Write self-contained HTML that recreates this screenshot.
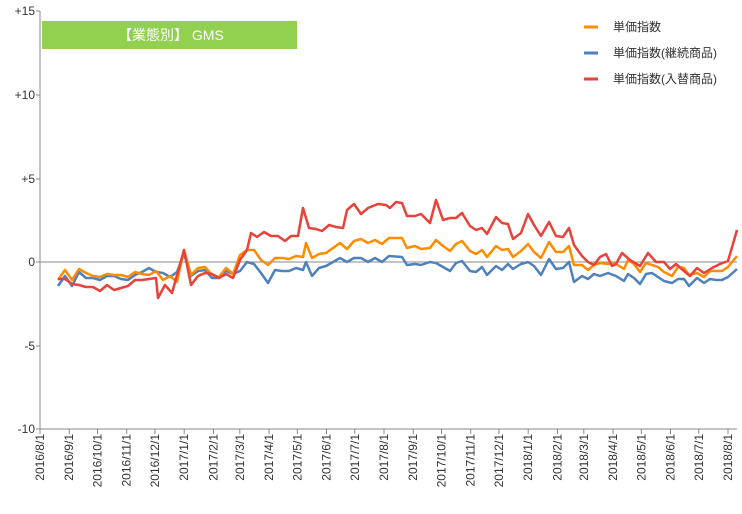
<!DOCTYPE html>
<html><head><meta charset="utf-8"><style>
body{margin:0;background:#fff;}
svg text{font-family:"Liberation Sans","Noto Sans CJK JP",sans-serif;}
</style></head><body>
<svg width="742" height="509" viewBox="0 0 742 509" xmlns="http://www.w3.org/2000/svg">
<rect width="742" height="509" fill="#fff"/>
<g font-size="12" fill="#333" text-anchor="end">
<text x="35" y="15">+15</text><text x="35" y="99">+10</text><text x="35" y="183">+5</text>
<text x="35" y="266">0</text><text x="35" y="350">-5</text><text x="35" y="433">-10</text>
</g>
<line x1="40" y1="11" x2="40" y2="429" stroke="#888" stroke-width="1"/>
<line x1="40" y1="429" x2="737" y2="429" stroke="#888" stroke-width="1"/>
<line x1="40" y1="262" x2="737" y2="262" stroke="#888" stroke-width="1"/>
<g stroke="#888" stroke-width="1">
<line x1="36" y1="11" x2="40" y2="11"/><line x1="36" y1="95" x2="40" y2="95"/><line x1="36" y1="179" x2="40" y2="179"/><line x1="36" y1="262" x2="40" y2="262"/><line x1="36" y1="346" x2="40" y2="346"/><line x1="36" y1="429" x2="40" y2="429"/>
</g>
<g id="xt" font-size="12" fill="#333"></g>
<rect x="42" y="21" width="255" height="28" fill="#92d050"/>
<text x="118" y="40" font-size="14" fill="#fff">【業態別】 GMS</text>
<g font-size="12" fill="#333">
<line x1="584" y1="27" x2="598" y2="27" stroke="#ff8c00" stroke-width="3"/><text x="613" y="31">単価指数</text>
<line x1="584" y1="53" x2="598" y2="53" stroke="#4f81bd" stroke-width="3"/><text x="613" y="57">単価指数(継続商品)</text>
<line x1="584" y1="79" x2="598" y2="79" stroke="#e8423a" stroke-width="3"/><text x="613" y="83">単価指数(入替商品)</text>
</g>
<g fill="none" stroke-width="2.5" stroke-linejoin="round">
<polyline stroke="#4f81bd" points="58,286 65,276 72,286 79,272 86,278 93,278 100,280 107,276 114,276 121,279 128,280 135,275 142,272 149,268 156,272 163,273 170,277 177,272 184,254 191,276 198,271 205,270 212,278 219,278 226,271 233,274 240,271 247,262 254,264 261,273 268,283 275,270 282,271 289,271 296,268 303,270 306,262 312,276 319,268 326,266 333,262 340,258 347,262 354,258 361,258 368,262 375,258 382,262 389,256 402,257 407,265 415,264 421,265 430,262 436,263 443,267 450,271 456,263 462,261 470,271 476,272 482,267 487,275 496,266 502,270 508,264 513,269 521,264 528,262 534,266 541,275 549,259 556,269 563,268 569,262 574,282 582,276 588,279 594,274 600,276 608,273 616,276 624,281 628,274 634,278 640,284 646,274 652,273 658,277 664,281 672,283 678,279 684,279 689,286 697,278 704,283 710,279 716,280 722,280 728,277 737,269"/>
<polyline stroke="#ff8c00" points="58,280 65,270 72,280 79,269 86,273 93,276 100,277 107,274 114,275 121,275 128,277 135,272 142,274 149,275 156,271 163,280 170,276 177,282 184,250 191,275 198,268 205,267 212,275 219,277 226,268 233,274 240,255 247,250 254,250 261,260 268,265 275,258 282,258 289,259 296,256 303,257 306,243 312,258 319,254 326,253 333,248 340,243 347,249 354,241 361,239 368,243 375,240 382,244 389,238 402,238 407,248 415,246 421,249 430,248 436,240 443,246 450,251 456,244 462,241 470,251 476,254 482,250 487,257 496,246 502,250 508,249 513,257 521,251 528,244 534,252 541,258 549,242 556,252 563,252 569,246 574,265 582,265 588,270 594,265 600,263 608,264 616,264 624,269 628,260 634,264 640,272 646,263 652,265 658,267 664,272 672,276 678,267 684,268 689,275 697,273 704,277 710,271 716,271 722,271 728,267 737,256"/>
<polyline stroke="#e8423a" points="58,279 65,279 72,284 79,285 86,287 93,287 100,291 107,285 114,290 121,288 128,286 135,280 142,280 149,279 156,278 158,298 165,285 172,293 184,250 191,285 198,276 205,273 212,274 219,278 226,274 233,278 240,260 247,250 251,233 257,237 264,232 271,236 278,236 285,241 291,236 298,236 303,208 309,228 316,229 322,231 329,225 336,227 343,228 347,210 354,204 361,214 368,208 378,204 386,205 390,208 396,202 402,203 407,216 415,216 421,214 430,223 436,200 443,220 450,218 456,218 462,213 470,226 476,230 482,228 487,234 496,217 502,223 508,224 513,239 521,233 528,214 534,225 541,236 549,222 556,236 563,237 569,228 574,245 582,256 588,262 594,265 600,257 606,254 612,266 616,264 622,253 630,260 640,266 648,253 656,262 664,262 670,269 676,264 684,271 690,276 697,268 704,273 712,268 720,264 728,261 737,230"/>
</g>
</svg>
<script>
var g=document.getElementById('xt'),ns='http://www.w3.org/2000/svg';
var d0=new Date(2016,7,1);
for(var i=0;i<=24;i++){var y=2016+Math.floor((7+i)/12),m=(7+i)%12;var d=new Date(y,m,1);
var x=40+(d-d0)/86400000*(688/730);
var l=document.createElementNS(ns,'line');l.setAttribute('x1',x);l.setAttribute('x2',x);l.setAttribute('y1',429);l.setAttribute('y2',434);l.setAttribute('stroke','#888');g.appendChild(l);
var t=document.createElementNS(ns,'text');t.setAttribute('transform','translate('+(x+4)+',434) rotate(-90)');t.setAttribute('text-anchor','end');t.textContent=y+'/'+(m+1)+'/1';g.appendChild(t);}
</script>
</body></html>
